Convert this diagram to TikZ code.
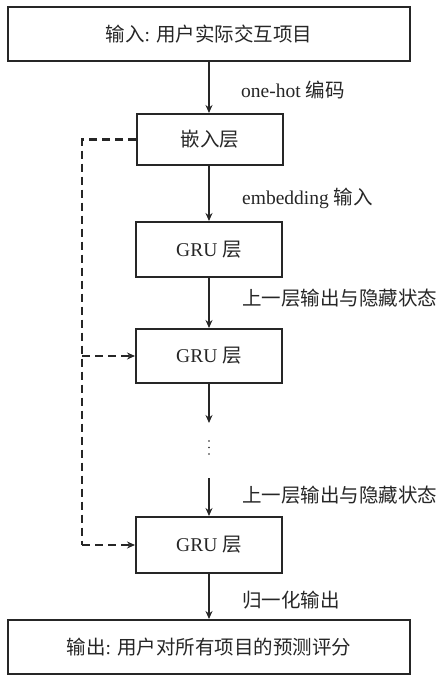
\documentclass[tikz,border=0pt]{standalone}
\usepackage{fontspec}
\setmainfont{Liberation Serif}
\newfontfamily\cjk{Noto Sans CJK SC}
\usetikzlibrary{arrows.meta}
\begin{document}
\begin{tikzpicture}[x=1pt,y=1pt,
  box/.style={draw=black!85, line width=2pt, inner sep=0pt, font=\fontsize{19.5}{22}\selectfont, text=black!85},
  wide/.style={box, minimum width=402pt, minimum height=54pt},
  layer/.style={box, minimum width=146pt, minimum height=54pt},
  tip/.style={-{Stealth[length=8pt,width=7pt]}},
  flow/.style={line width=2pt, draw=black!85, tip},
  dflow/.style={line width=2.2pt, draw=black!85, dash pattern=on 8pt off 5pt},
  dotc/.style={fill=black!85, draw=none},
  lab/.style={anchor=west, inner sep=0pt, font=\fontsize{19.5}{22}\selectfont, text=black!85}]
\useasboundingbox (0,0) rectangle (441,-675);
\node[wide] (in) at (209,-34) {{\cjk 输入}: {\cjk 用户实际交互项目}};
\node[layer, minimum height=51pt] (emb) at (210,-139.5) {{\cjk 嵌入层}};
\node[layer, minimum height=55pt] (g1) at (209,-249.5) {GRU {\cjk 层}};
\node[layer] (g2) at (209,-356) {GRU {\cjk 层}};
\node[layer, minimum height=56pt] (g3) at (209,-545) {GRU {\cjk 层}};
\node[wide] (out) at (209,-647) {{\cjk 输出}: {\cjk 用户对所有项目的预测评分}};
\coordinate (a1) at (209,-423);
\coordinate (a2) at (209,-478);
\coordinate (d1) at (82,-139.5);
\coordinate (d2) at (82,-356);
\coordinate (d3) at (82,-545);
\fill[dotc] (209,-441) circle (0.9pt) (209,-447.5) circle (0.9pt) (209,-454) circle (0.9pt);

\draw[flow] (in.south -| a1) -- (emb.north -| a1);
\draw[flow] (emb.south -| a1) -- (g1.north);
\draw[flow] (g1.south) -- (g2.north);
\draw[flow] (g2.south) -- (a1);
\draw[flow] (a2) -- (g3.north);
\draw[flow] (g3.south) -- (out.north -| g3.south);

\draw[dflow] (emb.west) -- (d1) -- (d3);
\draw[dflow, tip] (d2) -- (g2.west);
\draw[dflow, tip] (d3) -- (g3.west);

\node[lab] (l1) at (241,-90) {one-hot {\cjk 编码}};
\node[lab] (l2) at (242,-198) {embedding {\cjk 输入}};
\node[lab] (l3) at (242,-298) {{\cjk 上一层输出与隐藏状态}};
\node[lab] (l4) at (242,-495) {{\cjk 上一层输出与隐藏状态}};
\node[lab] (l5) at (242,-600) {{\cjk 归一化输出}};
\end{tikzpicture}
\end{document}
